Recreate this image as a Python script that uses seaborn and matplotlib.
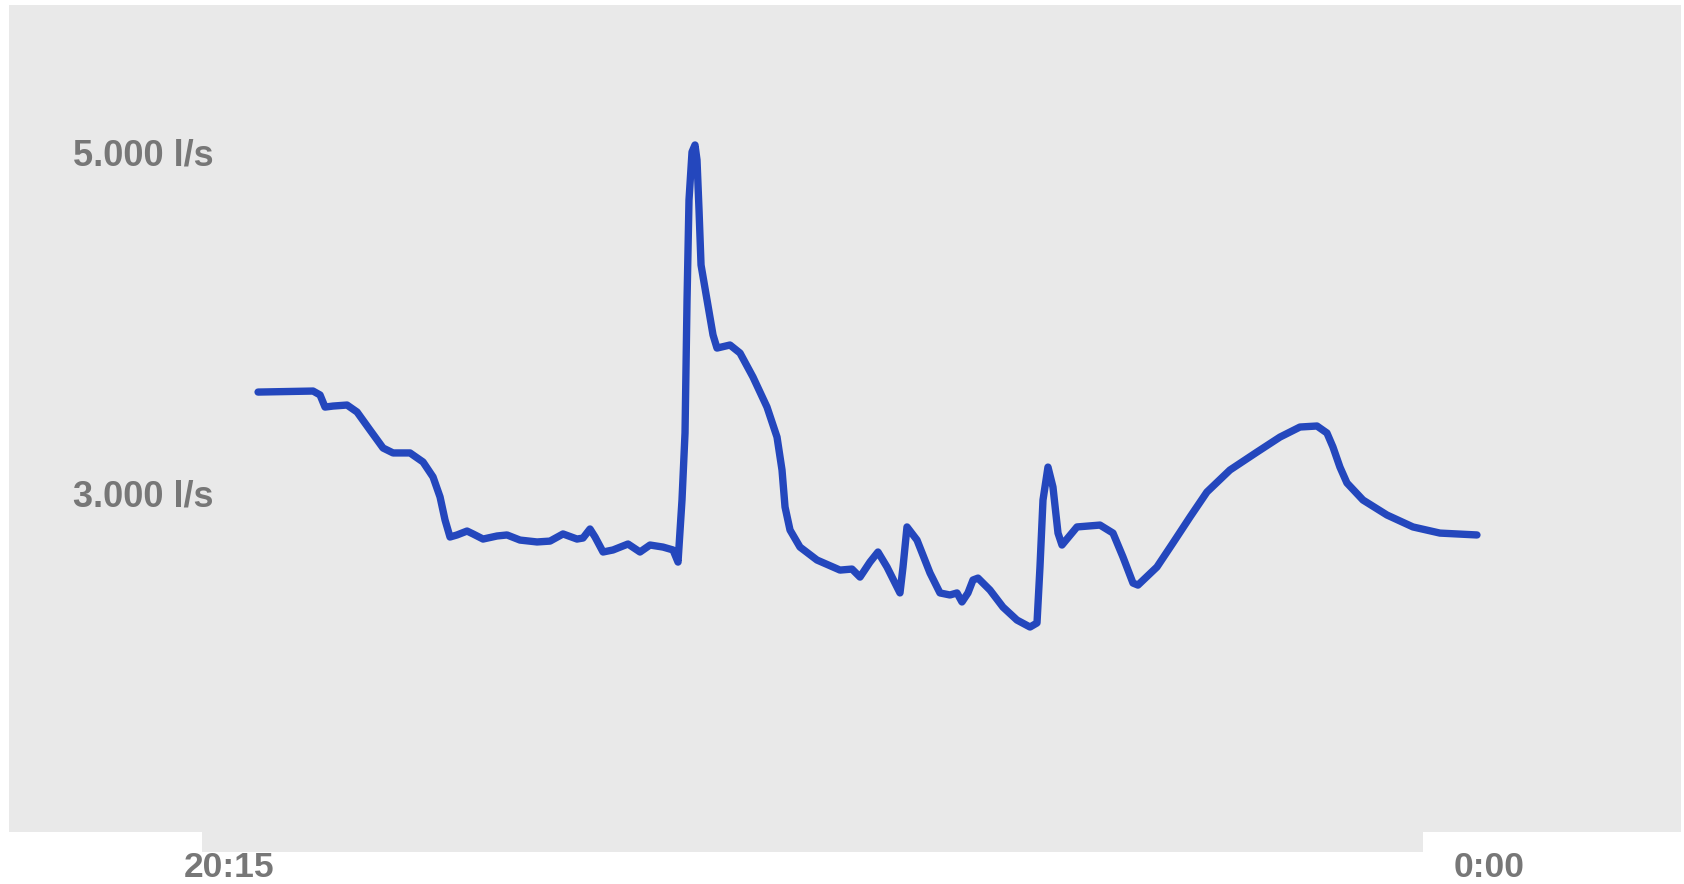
import matplotlib
matplotlib.use("Agg")
import matplotlib.pyplot as plt
import seaborn as sns
import pandas as pd
from matplotlib.patches import Rectangle

# minutes after 20:15
minutes = [5.18, 15.0, 16.25, 17.14, 18.57, 21.07, 22.86, 25.18, 27.5, 29.29,
           32.32, 34.64, 36.43, 37.68, 38.57, 39.46, 40.71, 42.5, 43.57, 45.36,
           47.86, 49.64, 51.96, 55.0, 57.32, 59.64, 62.14, 63.21, 64.46, 65.36,
           66.79, 68.57, 71.25, 73.39, 75.18, 77.5, 79.29, 80.18, 80.89, 81.43,
           81.79, 82.14, 82.68, 83.21, 83.57, 83.93, 84.29, 85.36, 86.43, 87.14,
           89.46, 91.25, 93.57, 96.07, 97.86, 98.75, 99.29, 100.18, 101.96, 105.0,
           109.11, 111.25, 112.68, 114.46, 115.89, 117.5, 119.82,
           120.36, 121.07, 122.86, 125.18, 126.96, 128.75, 130.0, 130.89, 131.96, 132.86,
           133.75, 135.89, 138.21, 140.71, 143.04, 144.29, 144.82, 145.36, 146.25, 147.14,
           148.04, 148.75, 151.43, 155.54, 157.86, 159.64, 161.43,
           162.32, 165.71, 168.57, 171.61, 174.64, 178.75, 183.57, 187.68, 191.25, 194.29,
           196.07, 197.14, 198.39, 199.64, 202.5, 206.79, 211.43, 216.25, 222.86]
# flow in l/s
flow = [3592, 3598, 3575, 3504, 3510, 3516, 3475, 3369, 3264, 3235,
        3235, 3182, 3094, 2977, 2842, 2742, 2754, 2777, 2760, 2730,
        2748, 2754, 2724, 2713, 2718, 2760, 2730, 2736, 2789, 2742,
        2654, 2666, 2701, 2654, 2695, 2683, 2666, 2595, 2959, 3352,
        4132, 4718, 5000, 5041, 4953, 4660, 4337, 4132, 3927, 3850,
        3868, 3821, 3680, 3504, 3328, 3135, 2918, 2783, 2683, 2607,
        2548, 2554, 2507, 2595, 2654, 2566, 2414,
        2566, 2801, 2724, 2531, 2414, 2402, 2414, 2361, 2414, 2490,
        2501, 2431, 2331, 2255, 2214, 2238, 2566, 2959, 3152, 3035,
        2765, 2695, 2801, 2812, 2765, 2625, 2472,
        2460, 2566, 2707, 2859, 3006, 3135, 3240, 3328, 3387, 3393,
        3352, 3270, 3152, 3059, 2959, 2871, 2801, 2765, 2754]

y_ticks = [3000, 5000]
y_tick_labels = ["3.000 l/s", "5.000 l/s"]
x_ticks = [0, 225]
x_tick_labels = ["20:15", "0:00"]

df = pd.DataFrame({"minutes": minutes, "flow": flow})

sns.set_theme(style="white")
plt.rcParams["font.family"] = ["Liberation Sans", "DejaVu Sans"]

W, H = 1684, 884
fig = plt.figure(figsize=(W / 100, H / 100), dpi=100, facecolor="white")
panel = "#e9e9e9"
ax = fig.add_axes([9 / W, 1 - 832 / H, (1681 - 9) / W, (832 - 5) / H])
ax.set_facecolor(panel)

# lower extension of the grey panel
fig.patches.append(Rectangle((202 / W, 1 - 852 / H), (1423 - 202) / W, 20 / H,
                             transform=fig.transFigure, facecolor=panel,
                             edgecolor="none", zorder=0))

sns.lineplot(data=df, x="minutes", y="flow", ax=ax, color="#2447bd",
             linewidth=5.3, sort=False)
for ln in ax.lines:
    ln.set_solid_joinstyle("round")
    ln.set_solid_capstyle("round")

ax.set_xlim(-39.3, 259.3)
ax.set_ylim(1012, 5862)

ax.set_yticks(y_ticks)
ax.set_yticklabels(y_tick_labels)
ax.set_xticks(x_ticks)
ax.set_xticklabels(x_tick_labels)

txt_color = "#777777"
ax.tick_params(axis="y", length=0, pad=-46, labelsize=26, labelcolor=txt_color)
ax.tick_params(axis="x", length=0, pad=14, labelsize=25.5, labelcolor=txt_color)
for lab in ax.get_yticklabels():
    lab.set_horizontalalignment("left")
    lab.set_fontweight("bold")
for lab in ax.get_xticklabels():
    lab.set_fontweight("bold")

ax.set_xlabel("")
ax.set_ylabel("")
for s in ax.spines.values():
    s.set_visible(False)
ax.grid(False)

fig.savefig("out.png", dpi=100, facecolor="white")
